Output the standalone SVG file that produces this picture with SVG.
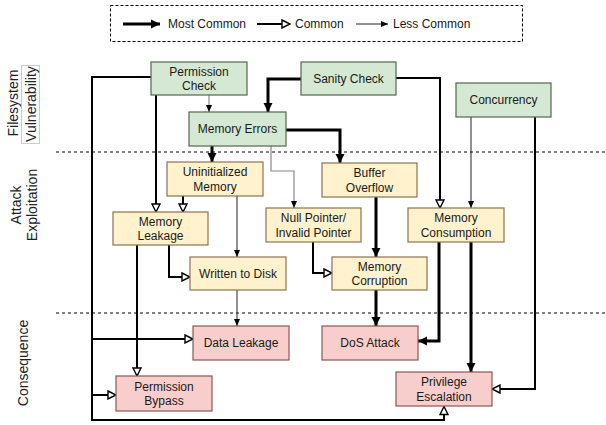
<svg xmlns="http://www.w3.org/2000/svg" width="606" height="425" viewBox="0 0 606 425">
<style>
text{font-family:"Liberation Sans",Arial,sans-serif;font-size:12px;fill:#1a1a1a;}
.t{text-anchor:middle;dominant-baseline:central;}
.lab{font-size:14px;text-anchor:middle;dominant-baseline:central;fill:#222;}
.g{fill:#d5e8d4;stroke:#55664f;stroke-width:1.2;}
.y{fill:#fff2cc;stroke:#8c7350;stroke-width:1.2;}
.p{fill:#f8cecc;stroke:#8c5555;stroke-width:1.2;}
.most{fill:none;stroke:#000;stroke-width:3;marker-end:url(#am);}
.com{fill:none;stroke:#000;stroke-width:2;marker-end:url(#ac);}
.less{fill:none;stroke:#222;stroke-width:1;marker-end:url(#al);}
.lessg{fill:none;stroke:#888;stroke-width:1.2;marker-end:url(#al);}
.sep{fill:none;stroke:#000;stroke-width:1;stroke-dasharray:3,3;}
</style>
<defs>
<marker id="am" markerUnits="userSpaceOnUse" markerWidth="10" markerHeight="10" viewBox="0 0 10 10" refX="9" refY="5" orient="auto"><path d="M0,0.5 L9,5 L0,9.5 z" fill="#000"/></marker>
<marker id="ac" markerUnits="userSpaceOnUse" markerWidth="10" markerHeight="10" viewBox="0 0 10 10" refX="9" refY="5" orient="auto"><path d="M1,1 L9,5 L1,9 z" fill="#fff" stroke="#000" stroke-width="1.4"/></marker>
<marker id="al" markerUnits="userSpaceOnUse" markerWidth="8" markerHeight="8" viewBox="0 0 8 8" refX="7" refY="4" orient="auto"><path d="M0,1 L7,4 L0,7 z" fill="#000"/></marker>
</defs>
<rect width="606" height="425" fill="#fff"/>

<g id="legend">
<rect x="110.5" y="5.5" width="412" height="36" fill="none" stroke="#000" stroke-width="1" stroke-dasharray="3,2"/>
<path class="most" d="M123,24 H160"/>
<text x="168" y="28">Most Common</text>
<path class="com" d="M257,24 H290"/>
<text x="295" y="28">Common</text>
<path class="less" d="M356,24 H388"/>
<text x="393" y="28">Less Common</text>
</g>

<g id="layers">
<path class="sep" d="M56,152 H606"/>
<path class="sep" d="M56,313 H606"/>
<rect x="21.5" y="65.5" width="18" height="78" fill="none" stroke="#ccc" stroke-width="1"/>
<text class="lab" transform="translate(13,103) rotate(-90)">Filesystem</text>
<text class="lab" transform="translate(30.5,104) rotate(-90)">Vulnerability</text>
<text class="lab" transform="translate(16,205) rotate(-90)">Attack</text>
<text class="lab" transform="translate(32,205) rotate(-90)">Exploitation</text>
<text class="lab" transform="translate(23,363) rotate(-90)">Consequence</text>
</g>

<g id="connectors">
<path class="lessg" d="M209,95 V112"/>
<path class="com" d="M151,77 H92 V420 H444 V406.5"/>
<path class="com" d="M92,339 H193"/>
<path class="com" d="M92,395 H116"/>
<path class="com" d="M156,95 V212"/>
<path class="most" d="M301,79 H268 V112"/>
<path class="com" d="M396,78 H440 V208"/>
<path class="less" d="M471,117 V208"/>
<path class="com" d="M535,117 V389 H492"/>
<path class="most" d="M212,146 V162"/>
<path class="most" d="M286,130 H340 V163"/>
<path class="lessg" d="M271,146 V171 H294 V208"/>
<path class="com" d="M183,196 V212"/>
<path class="less" d="M237,196 V257"/>
<path class="com" d="M169,245 V277 H190"/>
<path class="com" d="M137,245 V376"/>
<path class="com" d="M313,242 V273 H332"/>
<path class="most" d="M376,197 V257"/>
<path class="less" d="M237,290 V326"/>
<path class="most" d="M376,290 V326"/>
<path class="most" d="M439,242 V341 H418"/>
<path class="most" d="M471,242 V372"/>
</g>

<g id="permission-check"><rect class="g" x="151" y="62" width="96" height="33"/><text class="t" x="199" y="71.5">Permission</text><text class="t" x="199" y="86">Check</text></g>
<g id="sanity-check"><rect class="g" x="301" y="62" width="95" height="33"/><text class="t" x="348.5" y="78.5">Sanity Check</text></g>
<g id="concurrency"><rect class="g" x="456" y="83" width="95" height="34"/><text class="t" x="503.5" y="100">Concurrency</text></g>
<g id="memory-errors"><rect class="g" x="189" y="112" width="97" height="34"/><text class="t" x="237.5" y="129">Memory Errors</text></g>

<g id="uninitialized-memory"><rect class="y" x="167" y="162" width="96" height="34"/><text class="t" x="215" y="172">Uninitialized</text><text class="t" x="215" y="186.5">Memory</text></g>
<g id="buffer-overflow"><rect class="y" x="322" y="163" width="95" height="34"/><text class="t" x="369.5" y="173">Buffer</text><text class="t" x="369.5" y="187.5">Overflow</text></g>
<g id="memory-leakage"><rect class="y" x="113" y="212" width="95" height="33"/><text class="t" x="160.5" y="221.5">Memory</text><text class="t" x="160.5" y="236">Leakage</text></g>
<g id="null-pointer"><rect class="y" x="266" y="208" width="95" height="34"/><text class="t" x="313.5" y="218">Null Pointer/</text><text class="t" x="313.5" y="232.5">Invalid Pointer</text></g>
<g id="memory-consumption"><rect class="y" x="408" y="208" width="96" height="34"/><text class="t" x="456" y="218">Memory</text><text class="t" x="456" y="232.5">Consumption</text></g>
<g id="written-to-disk"><rect class="y" x="190" y="257" width="96" height="33"/><text class="t" x="238" y="273.5">Written to Disk</text></g>
<g id="memory-corruption"><rect class="y" x="332" y="257" width="95" height="33"/><text class="t" x="379.5" y="266.5">Memory</text><text class="t" x="379.5" y="281">Corruption</text></g>

<g id="data-leakage"><rect class="p" x="193" y="326" width="96" height="34"/><text class="t" x="241" y="343">Data Leakage</text></g>
<g id="dos-attack"><rect class="p" x="322" y="326" width="96" height="34"/><text class="t" x="370" y="343">DoS Attack</text></g>
<g id="permission-bypass"><rect class="p" x="116" y="376" width="96" height="35"/><text class="t" x="164" y="386.5">Permission</text><text class="t" x="164" y="401">Bypass</text></g>
<g id="privilege-escalation"><rect class="p" x="396" y="372" width="96" height="34"/><text class="t" x="444" y="382">Privilege</text><text class="t" x="444" y="396.5">Escalation</text></g>
</svg>
